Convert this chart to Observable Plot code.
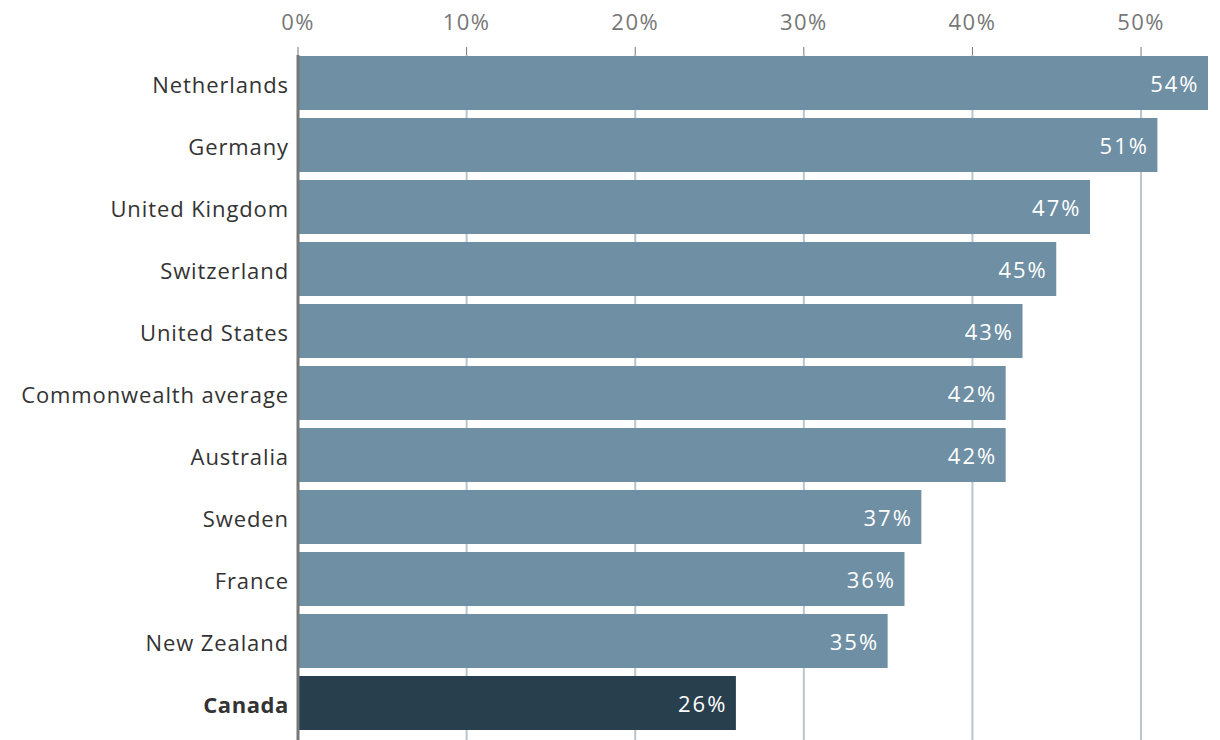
<!DOCTYPE html>
<html>
<head>
<meta charset="utf-8">
<script src="https://cdn.jsdelivr.net/npm/d3@7"></script>
<script src="https://cdn.jsdelivr.net/npm/@observablehq/plot@0.6"></script>
<style>
  html, body { margin: 0; padding: 0; background: #fff; }
  svg g[aria-label="x-axis tick label"] text { letter-spacing: 1.5px; }
</style>
</head>
<body>
<div id="chart"></div>
<script>
const countries = ["Netherlands", "Germany", "United Kingdom", "Switzerland", "United States", "Commonwealth average", "Australia", "Sweden", "France", "New Zealand", "Canada"];
const values = [54, 51, 47, 45, 43, 42, 42, 37, 36, 35, 26];
const xTicks = [0, 10, 20, 30, 40, 50];
const highlight = "Canada";

const data = countries.map((c, i) => ({country: c, value: values[i]}));

const chart = Plot.plot({
  width: 1220,
  height: 740,
  marginLeft: 297.5,
  marginRight: 12,
  marginTop: 55,
  marginBottom: 0,
  style: {fontFamily: "'Open Sans', sans-serif", fontSize: "22px", color: "#777", background: "#fff"},
  x: {domain: [0, 54], axis: "top", ticks: xTicks, tickFormat: d => d + "%", tickSize: 9, tickPadding: 17, label: null},
  y: {domain: countries, range: [52, 734], paddingInner: 0.13, paddingOuter: 0.065, axis: null},
  marks: [
    Plot.ruleX(xTicks.filter(d => d > 0), {stroke: "#b9c4cb", strokeWidth: 2}),
    Plot.barX(data, {x: "value", y: "country", fill: d => d.country === highlight ? "#283f4e" : "#6f8fa4"}),
    Plot.ruleX([0], {stroke: "#777", strokeWidth: 3}),
    Plot.text(data, {x: "value", y: "country", text: d => d.value + "%", textAnchor: "end", dx: -9, dy: 1, fill: "white", fontSize: 22}),
    Plot.text(data.filter(d => d.country !== highlight), {x: 0, y: "country", text: "country", textAnchor: "end", dx: -9, dy: 2, fill: "#333", fontSize: 22}),
    Plot.text(data.filter(d => d.country === highlight), {x: 0, y: "country", text: "country", textAnchor: "end", dx: -9, dy: 2, fill: "#333", fontSize: 22, fontWeight: "bold"})
  ]
});
const textGroups = d3.select(chart).selectAll('g[aria-label="text"]').nodes();
const spacing = ["2px", "0.9px", "0.6px"];
textGroups.forEach((g, i) => d3.select(g).style("letter-spacing", spacing[i] || null));
document.getElementById("chart").appendChild(chart);
</script>
</body>
</html>
